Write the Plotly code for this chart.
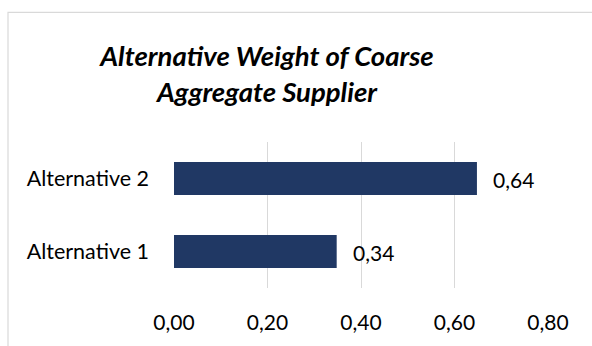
import plotly.graph_objects as go

categories = ["Alternative 1", "Alternative 2"]
values = [0.348, 0.648]
value_labels = ["0,34", "0,64"]
tick_vals = [0.0, 0.2, 0.4, 0.6, 0.8]
tick_text = ["0,00", "0,20", "0,40", "0,60", "0,80"]
title_text = "<b><i>Alternative Weight of Coarse<br>Aggregate Supplier</i></b>"

W, H = 592, 346
L, R, T, B = 174, 44, 142, 56
pw, ph = W - L - R, H - T - B
FONT = "Lato"
FS = 21

fig = go.Figure()
fig.add_trace(go.Bar(
    y=categories, x=values, orientation="h",
    marker=dict(color="#203864", line=dict(width=0)),
    width=0.45,
    cliponaxis=False,
))

for cat, v, lab in zip(categories, values, value_labels):
    fig.add_annotation(x=v, y=cat, text=lab, showarrow=False,
                       xanchor="left", yanchor="middle", xshift=14, yshift=-1,
                       font=dict(family=FONT, size=FS, color="#000000"))

def px_x(p):
    return (p - L) / pw

def px_y(p):
    return 1 - (p - T) / ph

fig.add_shape(type="rect", xref="paper", yref="paper",
              x0=px_x(8), x1=px_x(600), y0=px_y(360), y1=px_y(10.5),
              line=dict(color="#d9d9d9", width=1.2), fillcolor="rgba(0,0,0,0)", layer="below")

fig.update_layout(
    width=W, height=H,
    margin=dict(l=L, r=R, t=T, b=B),
    paper_bgcolor="white", plot_bgcolor="white",
    showlegend=False,
    title=dict(text=title_text, x=267 / W, xref="container", xanchor="center",
               y=1 - 66 / H, yanchor="middle",
               font=dict(family=FONT, size=27.5, color="#000000")),
    font=dict(family=FONT, size=FS, color="#000000"),
    xaxis=dict(range=[0, 0.8], tickvals=tick_vals, ticktext=tick_text,
               showgrid=True, gridcolor="#d9d9d9", gridwidth=1,
               zeroline=False, showline=False, ticks="",
               ticklabelstandoff=20,
               tickfont=dict(family=FONT, size=FS, color="#000000")),
    yaxis=dict(showgrid=False, zeroline=False, showline=False, ticks="",
               ticklabelstandoff=24,
               tickfont=dict(family=FONT, size=21.5, color="#000000")),
    bargap=0.55,
)

fig.write_html("out.html")
